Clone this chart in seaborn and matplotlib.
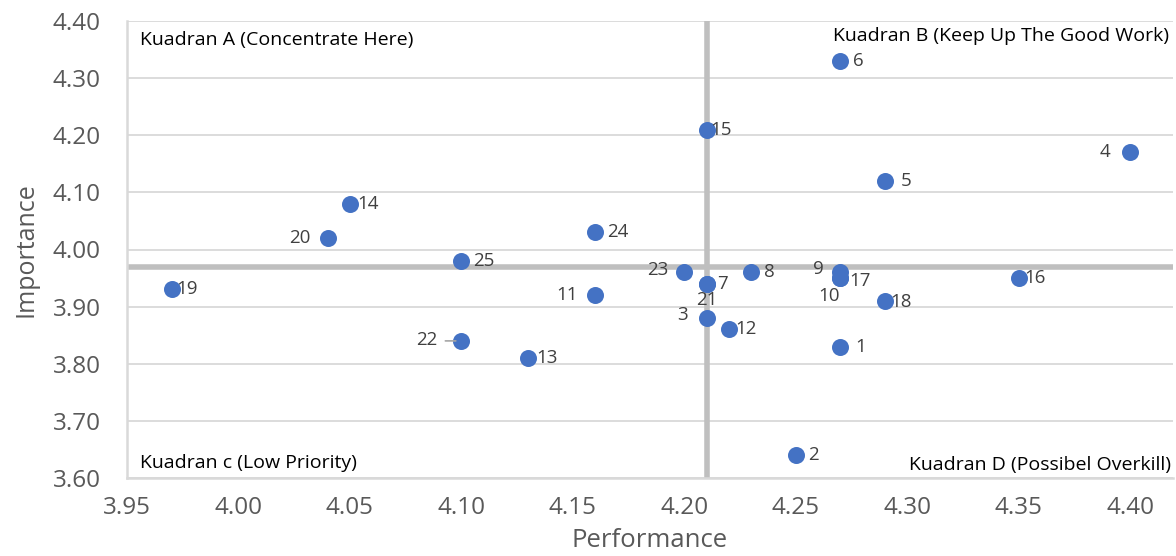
import matplotlib
matplotlib.use("Agg")
import matplotlib.pyplot as plt
import seaborn as sns
import pandas as pd

ids = [str(i) for i in range(1, 26)]
performance = [4.27, 4.25, 4.21, 4.40, 4.29, 4.27, 4.21, 4.23, 4.27, 4.27,
               4.16, 4.22, 4.13, 4.05, 4.21, 4.35, 4.27, 4.29, 3.97, 4.04,
               4.21, 4.10, 4.20, 4.16, 4.10]
importance = [3.83, 3.64, 3.88, 4.17, 4.12, 4.33, 3.94, 3.96, 3.96, 3.95,
              3.92, 3.86, 3.81, 4.08, 4.21, 3.95, 3.95, 3.91, 3.93, 4.02,
              3.94, 3.84, 3.96, 4.03, 3.98]
perf_mean = 4.21
imp_mean = 3.97
x_ticks = [3.95, 4.00, 4.05, 4.10, 4.15, 4.20, 4.25, 4.30, 4.35, 4.40]
y_ticks = [3.60, 3.70, 3.80, 3.90, 4.00, 4.10, 4.20, 4.30, 4.40]
quadrants = ["Kuadran A (Concentrate Here)", "Kuadran B (Keep Up The Good Work)",
             "Kuadran c (Low Priority)", "Kuadran D (Possibel Overkill)"]

df = pd.DataFrame({"id": ids, "Performance": performance, "Importance": importance})

sns.set_style("white")
plt.rcParams['font.family'] = ['Open Sans', 'DejaVu Sans']

W, H = 1176, 556
fig = plt.figure(figsize=(W / 100, H / 100), dpi=100)
L, R, T, B = 127, 1173, 21, 478
ax = fig.add_axes([L / W, 1 - B / H, (R - L) / W, (B - T) / H])

grid_c = "#d9d9d9"
for y in y_ticks:
    ax.axhline(y, color=grid_c, lw=1.3, zorder=0)
ax.axvline(perf_mean, color="#bfbfbf", lw=4, zorder=1)
ax.axhline(imp_mean, color="#bfbfbf", lw=4, zorder=1)

sns.scatterplot(data=df, x="Performance", y="Importance", ax=ax, s=150,
                color="#4472C4", edgecolor="#4472C4", linewidth=0, zorder=3)

# label offsets in pixels (dx, dy, ha)
offsets = {
    "1": (15, 0, "left"), "2": (12, 0, "left"), "3": (-19, 3, "right"),
    "4": (-20, 0, "right"), "5": (16, 0, "left"), "6": (13, 0, "left"),
    "7": (11, 0, "left"), "8": (13, 0, "left"), "9": (-17, 3, "right"),
    "10": (-11, -18, "center"), "11": (-17, 0, "right"), "12": (6, 0, "left"),
    "13": (8, 0, "left"), "14": (7, 0, "left"), "15": (4, 0, "left"),
    "16": (6, 0, "left"), "17": (9, -3, "left"), "18": (5, -1, "left"),
    "19": (5, 0, "left"), "20": (-17, 0, "right"), "21": (0, -16, "center"),
    "22": (-24, 1, "right"), "23": (-16, 2, "right"), "24": (12, 0, "left"),
    "25": (12, 0, "left"),
}
text_c = "#404040"
for i, x, y in zip(ids, performance, importance):
    dx, dy, ha = offsets.get(i, (8, 0, "left"))
    ax.annotate(i, (x, y), xytext=(dx * 0.72, dy * 0.72), textcoords="offset points",
                ha=ha, va="center", fontsize=13.5, color=text_c, zorder=4)
# leader line for 22
ax.annotate("", (performance[21], importance[21]), xytext=(-16 * 0.72, 0),
            textcoords="offset points",
            arrowprops=dict(arrowstyle="-", color="#a6a6a6", lw=1.2,
                            shrinkA=0, shrinkB=4))

qfs = 14
ax.text(3.956, 4.367, quadrants[0], fontsize=qfs, color="black", va="center", ha="left")
ax.text(4.4175, 4.374, quadrants[1], fontsize=qfs, color="black", va="center", ha="right")
ax.text(3.956, 3.627, quadrants[2], fontsize=qfs, color="black", va="center", ha="left")
ax.text(4.4185, 3.623, quadrants[3], fontsize=qfs, color="black", va="center", ha="right")

ax.set_xlim(3.95, 3.95 + (R - L) / 2229)
ax.set_ylim(3.60, 4.40)
ax.set_xticks(x_ticks)
ax.set_yticks(y_ticks)
ax.set_xticklabels([f"{v:.2f}" for v in x_ticks])
ax.set_yticklabels([f"{v:.2f}" for v in y_ticks])
ax.tick_params(axis="both", length=0, labelsize=17.5, labelcolor="#595959")
ax.tick_params(axis="x", pad=13)
ax.tick_params(axis="y", pad=19)
ax.set_xlabel("Performance", fontsize=18.5, color="#595959", labelpad=6)
ax.set_ylabel("Importance", fontsize=18, color="#595959", labelpad=10)

for s in ["top", "right"]:
    ax.spines[s].set_visible(False)
for s in ["left", "bottom"]:
    ax.spines[s].set_color(grid_c)
    ax.spines[s].set_linewidth(1.8)

fig.savefig("out.png", dpi=100)
